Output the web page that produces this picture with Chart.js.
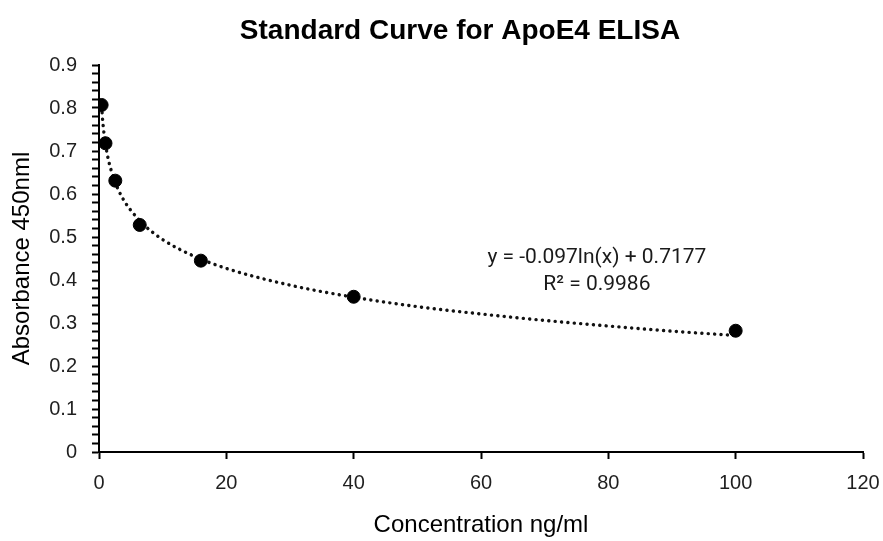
<!DOCTYPE html>
<html>
<head>
<meta charset="utf-8">
<script src="https://cdn.jsdelivr.net/npm/chart.js@4.4.1/dist/chart.umd.min.js"></script>
<style>
  html, body { margin: 0; padding: 0; background: #fff; }
  #wrap { width: 883px; height: 541px; }
</style>
</head>
<body>
<div id="wrap"><canvas id="chart" width="883" height="541"></canvas></div>
<script>
// standards (serial dilution) and measured absorbance
const concentrations = [0.41, 1.02, 2.56, 6.4, 16, 40, 100];
const absorbance = [0.807, 0.718, 0.631, 0.528, 0.445, 0.361, 0.282];

// log trendline
const trendX = [0.41, 0.6, 1, 1.5, 2, 3, 4, 5, 7, 10, 15, 20, 30, 40, 50, 60, 70, 80, 90, 100];
const trendY = [0.804, 0.767, 0.718, 0.678, 0.651, 0.611, 0.583, 0.562, 0.529, 0.494, 0.455, 0.427, 0.388, 0.360, 0.338, 0.321, 0.306, 0.293, 0.281, 0.271];

const chartTitle = 'Standard Curve for ApoE4 ELISA';
const equationLines = ['y = -0.097ln(x) + 0.7177', 'R² = 0.9986'];

const xTicks = [0, 20, 40, 60, 80, 100, 120];

// title (sits a bit right of canvas centre) and the equation text
const textLayer = {
    id: 'textLayer',
    afterDraw(chart) {
        const { ctx, scales: { x, y } } = chart;
        ctx.save();
        ctx.fillStyle = '#000';
        ctx.textAlign = 'center';
        ctx.textBaseline = 'alphabetic';
        ctx.font = 'bold 28px "Liberation Sans", Arial, sans-serif';
        ctx.fillText(chartTitle, 460, 39);

        ctx.font = '21px Roboto, "Liberation Sans", sans-serif';
        ctx.fillStyle = '#1a1a1a';
        ctx.textBaseline = 'middle';
        const cx = x.getPixelForValue(78.2);
        ctx.fillText(equationLines[0], cx, y.getPixelForValue(0.452));
        ctx.fillText(equationLines[1], cx, y.getPixelForValue(0.390));
        ctx.restore();
    }
};

Chart.defaults.font.family = '"Liberation Sans", Arial, sans-serif';
Chart.defaults.color = '#1f1f1f';

new Chart(document.getElementById('chart'), {
    type: 'scatter',
    data: {
        datasets: [
            {
                label: 'Trendline',
                data: trendX.map((v, i) => ({ x: v, y: trendY[i] })),
                showLine: true,
                borderColor: '#111',
                borderWidth: 3.4,
                borderDash: [0.1, 6.3],
                borderCapStyle: 'round',
                cubicInterpolationMode: 'monotone',
                pointRadius: 0,
                fill: false,
                order: 2
            },
            {
                label: 'Standards',
                data: concentrations.map((v, i) => ({ x: v, y: absorbance[i] })),
                backgroundColor: '#000',
                borderColor: '#000',
                pointRadius: 6.5,
                order: 1
            }
        ]
    },
    options: {
        responsive: false,
        animation: false,
        layout: { padding: { left: 0, right: 20, top: 65, bottom: 0 } },
        plugins: {
            legend: { display: false },
            tooltip: { enabled: false },
            title: { display: false }
        },
        scales: {
            x: {
                type: 'linear',
                min: 0,
                max: 120,
                afterBuildTicks: s => { s.ticks = xTicks.map(v => ({ value: v })); },
                ticks: { font: { size: 20 }, padding: 12, maxRotation: 0 },
                grid: { drawOnChartArea: false, color: '#000', tickLength: 7, tickWidth: 2 },
                border: { color: '#000', width: 2 },
                title: {
                    display: true,
                    text: 'Concentration ng/ml',
                    font: { size: 24 },
                    color: '#000',
                    padding: { top: 0, bottom: 1 }
                },
                afterFit: s => {
                    s.height = 89;
                    s.paddingLeft = 0;
                    s.paddingRight = 0;
                }
            },
            y: {
                min: 0,
                max: 0.9,
                ticks: {
                    stepSize: 0.02,
                    autoSkip: false,
                    font: { size: 20 },
                    padding: 15,
                    callback: v => {
                        const t = v * 10;
                        if (Math.abs(t - Math.round(t)) > 1e-6) return '';
                        const r = Math.round(t);
                        return r === 0 ? '0' : (r / 10).toFixed(1);
                    }
                },
                grid: { drawOnChartArea: false, color: '#000', tickLength: 7, tickWidth: 2 },
                border: { color: '#000', width: 2 },
                title: {
                    display: true,
                    text: 'Absorbance 450nml',
                    font: { size: 24 },
                    color: '#000',
                    padding: { top: 8, bottom: 0 }
                },
                afterFit: s => { s.width = 99; }
            }
        }
    },
    plugins: [textLayer]
});
</script>
</body>
</html>
